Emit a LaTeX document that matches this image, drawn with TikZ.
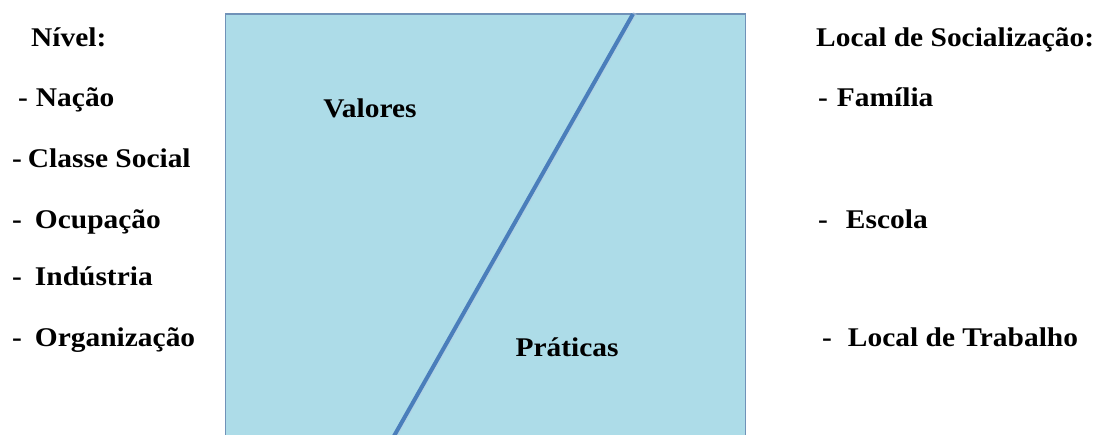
\documentclass[tikz,border=0pt]{standalone}
\usepackage{fontspec}
\setmainfont{Liberation Serif}[FakeStretch=1.09]
\definecolor{boxfill}{RGB}{173,220,232}
\definecolor{boxline}{RGB}{112,146,184}
\definecolor{divline}{RGB}{74,126,187}
\begin{document}
\begin{tikzpicture}[x=1pt,y=-1pt,
  lbl/.style={anchor=base west,inner sep=0pt,font=\fontsize{27}{32}\selectfont\bfseries},
  inlbl/.style={anchor=base,inner sep=0pt,font=\fontsize{27}{32}\selectfont\bfseries}]
\useasboundingbox (0,0) rectangle (1097,435);
% box
\fill[boxfill] (225.5,14) rectangle (745.5,435);
\draw[boxline,line width=1.5pt] (225.5,436) -- (225.5,14) -- (745.5,14) -- (745.5,436);
% divider
\coordinate (dtop) at (633,14);
\coordinate (dbot) at (394,436);
\draw[white!60!divline,line width=4pt,opacity=0.5] ([xshift=2pt,yshift=1pt]dtop) -- ([xshift=2pt,yshift=1pt]dbot);
\draw[divline,line width=4pt] (dtop) -- (dbot);
% inner labels
\node[inlbl] (val) at (370,118) {Valores};
\node[inlbl] (pra) at (567,356) {Práticas};
% left list
\node[lbl] (niv) at (31,47) {Nível:};
\node[lbl] (nac) at (18,107) {-\hspace{8pt}Nação};
\node[lbl] (cla) at (12,168) {-\hspace{6pt}Classe Social};
\node[lbl] (ocu) at (12,229) {-\hspace{13pt}Ocupação};
\node[lbl] (ind) at (12,286) {-\hspace{13pt}Indústria};
\node[lbl] (org) at (12,347) {-\hspace{13pt}Organização};
% right list
\node[lbl] (loc) at (816,47) {Local de Socialização:};
\node[lbl] (fam) at (818,107) {-\hspace{9pt}Família};
\node[lbl] (esc) at (818,229) {-\hspace{18pt}Escola};
\node[lbl] (tra) at (822,347) {-\hspace{16pt}Local de Trabalho};
\end{tikzpicture}
\end{document}
